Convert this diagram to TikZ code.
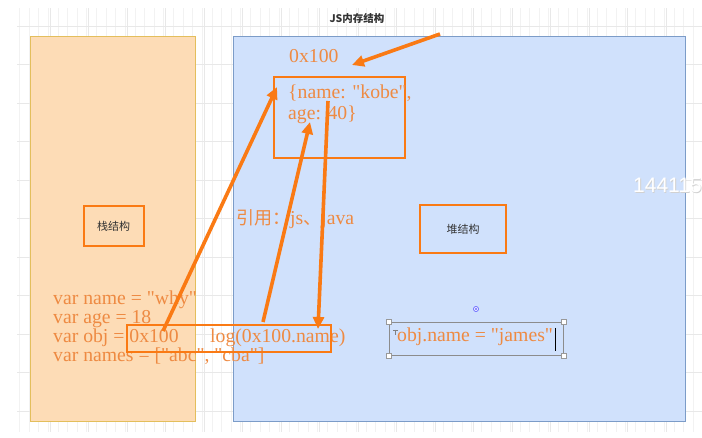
\documentclass[tikz,border=0pt]{standalone}
\usepackage{fontspec}
\setmainfont{Liberation Serif}
\newfontfamily\cjk{Noto Sans CJK SC}
\newfontfamily\sansf{Liberation Sans}
\font\codefnt="Liberation Serif" at 19.7pt
\usetikzlibrary{arrows.meta}
\newcommand\lb{\char`\{}
\newcommand\rb{\char`\}}
\definecolor{orT}{HTML}{EE8A42}
\definecolor{orL}{HTML}{FA7A14}
\definecolor{stackF}{HTML}{FDDCB6}
\definecolor{stackD}{HTML}{E3BE5C}
\definecolor{heapF}{HTML}{D0E1FC}
\definecolor{heapD}{HTML}{7C9CC8}
\tikzset{
  codetxt/.style={font=\codefnt, text=orT, inner sep=0pt, anchor=base west},
  orbox/.style={draw=orL, line width=2pt},
  cjklabel/.style={font=\cjk\fontsize{11}{11}\selectfont, text=black!80},
  refarrow/.style={draw=orL, line width=3.6pt, -{Triangle[length=12pt,width=11pt]}},
  handle/.style={draw=gray!80, fill=white, line width=0.6pt, minimum size=5pt, inner sep=0pt}
}
\begin{document}
\begin{tikzpicture}[x=1pt,y=-1pt]
\useasboundingbox (0,0) rectangle (702,438);
% grid
\draw[black!5, line width=0.4pt] (17,8) grid[step=9.625] (702,432);
\foreach \x in {50,88.5,...,702} \draw[black!9, line width=0.6pt] (\x,8) -- (\x,432);
\foreach \y in {26,64.5,...,432} \draw[black!9, line width=0.6pt] (17,\y) -- (702,\y);
% title
\node[font=\cjk\bfseries\fontsize{10.5}{10.5}\selectfont, text=black!80] (title) at (357,18) {JS内存结构};
% stack and heap
\node[draw=stackD, fill=stackF, line width=1pt, minimum width=165pt, minimum height=385pt, anchor=north west, inner sep=0pt] (stack) at (30,36) {};
\node[draw=heapD, fill=heapF, line width=1pt, minimum width=452pt, minimum height=385pt, anchor=north west, inner sep=0pt] (heap) at (233,36) {};
% watermark
\node[font=\sansf\fontsize{21}{21}\selectfont, text=black!18, anchor=base west, inner sep=0pt] (wm0) at (633.8,193.6) {1441152};
\node[font=\sansf\fontsize{21}{21}\selectfont, text=white, anchor=base west, inner sep=0pt] (wm) at (633,193) {1441152};
% labels boxes
\node[orbox, minimum width=60pt, minimum height=40pt, cjklabel, inner sep=0pt] (stl) at (113.5,226) {栈结构};
\node[orbox, minimum width=86pt, minimum height=48pt, cjklabel, inner sep=0pt] (hpl) at (463,229) {堆结构};
% object box
\node[orbox, minimum width=131pt, minimum height=81pt, anchor=north west, inner sep=0pt] (obj) at (273,76) {};
\node[codetxt] (addr) at (289,63) {0x100};
\node[codetxt] (o1) at (288,99) {\lb name: "kobe",};
\node[codetxt] (o2) at (288,120) {age: 40\rb};
\node[codetxt] (ref) at (236,225) {{\cjk\fontsize{18}{18}\selectfont 引用：}js{\cjk\fontsize{18}{18}\selectfont 、}java};
% code
\node[codetxt] (c1) at (53,305) {var name = "why"};
\node[codetxt] (c2) at (53,324) {var age = 18};
\node[codetxt] (c3) at (53,343) {var obj = 0x100};
\node[codetxt] (c4) at (53,362) {var names = ["abc", "cba"]};
\node[codetxt] (lg) at (210,343) {log(0x100.name)};
\node[orbox, minimum width=204pt, minimum height=27pt, anchor=north west, inner sep=0pt] (ptr) at (126,324) {};
% selected text box
\node[draw=gray!90, line width=0.8pt, minimum width=174pt, minimum height=33pt, anchor=north west, inner sep=0pt] (sel) at (389,322) {};
\node[codetxt] (james) at (397,342) {obj.name = "james"};
\foreach \c in {north west, north east, south west, south east} \node[handle] at (sel.\c) {};
\draw[black, line width=1pt] (555,328) -- (555,351);
\draw[gray, line width=0.5pt] (393,330) -- (398,330) (395.5,330) -- (395.5,335);
\node[circle, draw=blue!60, fill=white, line width=0.8pt, minimum size=5pt, inner sep=0pt] (rot) at (476,309) {};
\fill[blue!60] (rot) circle (1.2pt);
% arrows
\coordinate (t0) at (440,34);
\coordinate (h0) at (352,65);
\draw[refarrow] (t0) -- (h0);
\coordinate (a1s) at (163,331);
\coordinate (a1e) at (277,87);
\draw[refarrow] (a1s) -- (a1e);
\coordinate (a2s) at (263,322);
\coordinate (a2e) at (310,122);
\draw[refarrow] (a2s) -- (a2e);
\coordinate (a3s) at (328,101);
\coordinate (a3e) at (318,329);
\draw[refarrow] (a3s) -- (a3e);
\end{tikzpicture}
\end{document}
